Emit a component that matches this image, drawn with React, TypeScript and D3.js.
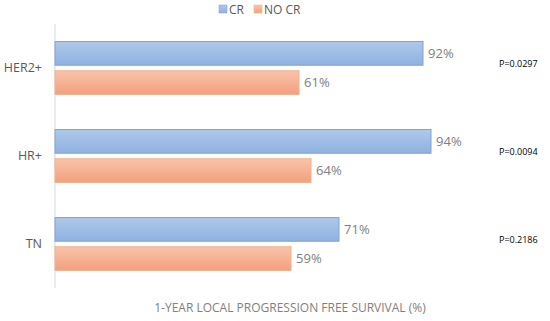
import React from 'react';
import * as d3 from 'd3';

const categories = ['HER2+', 'HR+', 'TN'];
const series = ['CR', 'NO CR'];
const crValues = [92, 94, 71];
const noCrValues = [61, 64, 59];
const pValues = ['P=0.0297', 'P=0.0094', 'P=0.2186'];
const axisTitle = '1-YEAR LOCAL PROGRESSION FREE SURVIVAL (%)';

const W = 550;
const H = 321;
const font = "'Open Sans', 'DejaVu Sans', sans-serif";

const App: React.FC = () => {
  const x = d3.scaleLinear().domain([0, 100]).range([55, 455]);
  const y = d3.scaleBand<string>().domain(categories).range([24, 288]);
  const inner = d3
    .scaleBand<string>()
    .domain(series)
    .range([0, y.bandwidth()])
    .paddingInner(0.19)
    .paddingOuter(0.6);

  const colors: Record<string, { top: string; bottom: string; stroke: string }> = {
    CR: { top: '#aec8ea', bottom: '#8fb2e0', stroke: '#7ea3d8' },
    'NO CR': { top: '#f8c4aa', bottom: '#f2a07f', stroke: '#f4b08c' },
  };

  const rows = categories.map((c, i) => ({
    cat: c,
    vals: [
      { s: 'CR', v: crValues[i] },
      { s: 'NO CR', v: noCrValues[i] },
    ],
    p: pValues[i],
  }));

  return (
    <svg width={W} height={H} style={{ display: 'block', position: 'absolute', left: 0, top: 0 }}>
      <defs>
        {series.map((s, i) => (
          <linearGradient key={s} id={`g${i}`} x1="0" y1="0" x2="0" y2="1">
            <stop offset="0%" stopColor={colors[s].top} />
            <stop offset="100%" stopColor={colors[s].bottom} />
          </linearGradient>
        ))}
      </defs>
      <rect width={W} height={H} fill="#fff" />

      {/* legend */}
      <g fontFamily={font} fontSize={12} fill="#595959">
        <rect x={219} y={5} width={8} height={8} fill="url(#g0)" stroke={colors.CR.stroke} strokeWidth={0.5} />
        <text x={229} y={13.5}>CR</text>
        <rect x={254} y={5} width={8} height={8} fill="url(#g1)" stroke={colors['NO CR'].stroke} strokeWidth={0.5} />
        <text x={264} y={13.5}>NO CR</text>
      </g>

      {/* axis line */}
      <line x1={x(0)} x2={x(0)} y1={24} y2={288} stroke="#d9d9d9" strokeWidth={1} />

      {rows.map((r) => (
        <g key={r.cat}>
          <text
            x={42}
            y={(y(r.cat) as number) + y.bandwidth() / 2}
            dy="0.35em"
            textAnchor="end"
            fontFamily={font}
            fontSize={12.5}
            fill="#595959"
          >
            {r.cat}
          </text>
          {r.vals.map((d, j) => {
            const by = (y(r.cat) as number) + (inner(d.s) as number);
            return (
              <g key={d.s}>
                <rect
                  x={x(0)}
                  y={by}
                  width={x(d.v) - x(0)}
                  height={inner.bandwidth()}
                  fill={`url(#g${j})`}
                  stroke={colors[d.s].stroke}
                  strokeWidth={1}
                />
                <text
                  x={x(d.v) + 5}
                  y={by + inner.bandwidth() / 2}
                  dy="0.35em"
                  fontFamily={font}
                  fontSize={13}
                  fill="#808080"
                >
                  {d.v}%
                </text>
              </g>
            );
          })}
          <text
            x={499}
            y={(y(r.cat) as number) + y.bandwidth() / 2 - 4}
            dy="0.35em"
            fontFamily={font}
            fontSize={9}
            fill="#000"
          >
            {r.p}
          </text>
        </g>
      ))}

      <text x={290} y={312} textAnchor="middle" fontFamily={font} fontSize={12} fill="#7f7f7f">
        {axisTitle}
      </text>
    </svg>
  );
};

export default App;
